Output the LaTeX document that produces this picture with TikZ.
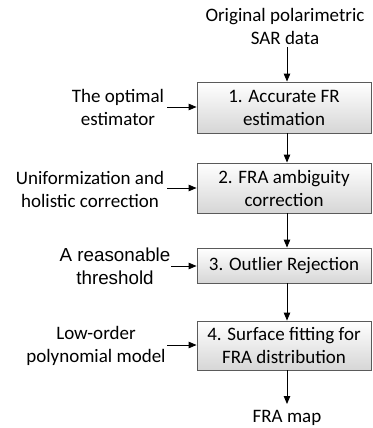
\documentclass[tikz,border=0pt]{standalone}
\usepackage{fontspec}
\setmainfont{Carlito}
\newfontfamily\arialfont{Liberation Sans}
\usetikzlibrary{arrows.meta}
\definecolor{boxline}{HTML}{5A5A5A}
\definecolor{boxbot}{HTML}{D6D6D6}
\tikzset{
  stepbox/.style={draw=boxline, line width=0.9pt, top color=white, bottom color=boxbot,
    minimum width=174pt, inner sep=0pt, align=center, font=\fontsize{19}{23}\selectfont},
  lbl/.style={align=center, inner sep=0pt, font=\fontsize{19}{23}\selectfont},
  arr/.style={-{Triangle[length=8pt,width=6.5pt]}, line width=0.9pt, black},
}
\begin{document}
\begin{tikzpicture}[x=1pt,y=-1pt]
\useasboundingbox (0,0) rectangle (372,428);
\coordinate (col) at (287,0);
\node[lbl] (orig) at (285,26.5) {Original polarimetric\\SAR data};
\node[stepbox, minimum height=51pt] (b1) at (284,107.5) {1. Accurate FR\\estimation};
\node[stepbox, minimum height=50pt] (b2) at (284,188) {2. FRA ambiguity\\correction};
\node[stepbox, minimum height=35pt] (b3) at (284,265.5) {3. Outlier Rejection};
\node[stepbox, minimum height=49pt] (b4) at (284,345.5) {4. Surface fitting for\\FRA distribution};
\node[lbl] (map) at (287,418) {FRA map};
\node[lbl] (l1) at (118,107) {The optimal\\estimator};
\node[lbl] (l2) at (90,189) {Uniformization and\\holistic correction};
\node[lbl, font=\arialfont\fontsize{18.8}{23}\selectfont] (l3) at (115,266.5) {A reasonable\\threshold};
\node[lbl] (l4) at (96,346) {Low-order\\polynomial model};
\coordinate (a0) at (287,47);
\coordinate (t0) at (287,404);
\draw[arr] (a0) -- (b1.north -| col);
\draw[arr] (b1.south -| col) -- (b2.north -| col);
\draw[arr] (b2.south -| col) -- (b3.north -| col);
\draw[arr] (b3.south -| col) -- (b4.north -| col);
\draw[arr] (b4.south -| col) -- (t0);
\coordinate (s1) at (167,107);
\coordinate (s2) at (167,188);
\coordinate (s3) at (171,266);
\coordinate (s4) at (167,345);
\draw[arr] (s1) -- (s1 -| b1.west);
\draw[arr] (s2) -- (s2 -| b2.west);
\draw[arr] (s3) -- (s3 -| b3.west);
\draw[arr] (s4) -- (s4 -| b4.west);
\end{tikzpicture}
\end{document}
